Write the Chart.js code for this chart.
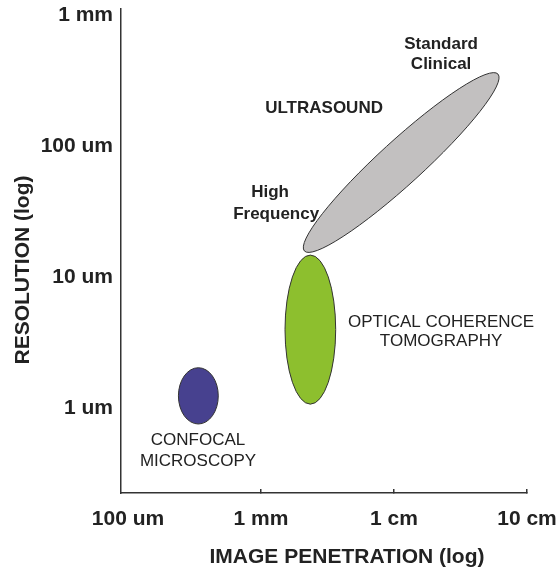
<!DOCTYPE html>
<html>
<head>
<meta charset="utf-8">
<script src="https://cdn.jsdelivr.net/npm/chart.js@4.4.1/dist/chart.umd.min.js"></script>
<style>
  html, body { margin: 0; padding: 0; background: #ffffff; }
  canvas { display: block; }
</style>
</head>
<body>
<canvas id="chart" width="559" height="572"></canvas>
<script>
// Imaging modalities. Each region is an ellipse whose long axis runs from a
// start point to an end point (penetration depth in mm, resolution in um);
// halfWidthDecades is the half-thickness of the region in log decades.
const modalities       = ['ULTRASOUND', 'OPTICAL COHERENCE TOMOGRAPHY', 'CONFOCAL MICROSCOPY'];
const penetrationStart = [2.12, 2.35, 0.338];
const resolutionStart  = [15.8, 1.07, 0.755];
const penetrationEnd   = [60.5, 2.35, 0.338];
const resolutionEnd    = [354, 14.7, 2.03];
const halfWidthDecades = [0.165, 0.192, 0.151];

// Axis ticks
const penetrationTicks      = [0.1, 1, 10, 100];
const penetrationTickLabels = ['100 um', '1 mm', '1 cm', '10 cm'];
const resolutionTicks       = [1, 10, 100, 1000];
const resolutionTickLabels  = ['1 um', '10 um', '100 um', '1 mm'];

// Region fill colours
const regionColors = ['#c2c0c0', '#8dbf2e', '#47418f'];

// Text placed next to the regions, anchored in data coordinates
const regionNotes = [
  { text: 'Standard',          x: 22.6,  y: 601,   bold: true },
  { text: 'Clinical',          x: 22.6,  y: 423,   bold: true },
  { text: 'ULTRASOUND',        x: 2.98,  y: 195,   bold: true },
  { text: 'High',              x: 1.17,  y: 44.5,  bold: true },
  { text: 'Frequency',         x: 1.30,  y: 30.3,  bold: true },
  { text: 'OPTICAL COHERENCE', x: 22.6,  y: 4.53,  bold: false },
  { text: 'TOMOGRAPHY',        x: 22.6,  y: 3.25,  bold: false },
  { text: 'CONFOCAL',          x: 0.336, y: 0.570, bold: false },
  { text: 'MICROSCOPY',        x: 0.336, y: 0.394, bold: false }
];

const FONT = '"Liberation Sans", Arial, Helvetica, sans-serif';
const INK = '#222222';

const regionPlugin = {
  id: 'regions',
  beforeDatasetsDraw(chart) {
    const { ctx, scales } = chart;
    const xs = scales.x, ys = scales.y;
    const decadePx = (Math.abs(xs.getPixelForValue(10) - xs.getPixelForValue(1)) +
                      Math.abs(ys.getPixelForValue(10) - ys.getPixelForValue(1))) / 2;
    chart.data.datasets.forEach((ds, i) => {
      const pts = chart.getDatasetMeta(i).data;
      const p1 = pts[0], p2 = pts[1];
      const cx = (p1.x + p2.x) / 2, cy = (p1.y + p2.y) / 2;
      const a = Math.hypot(p2.x - p1.x, p2.y - p1.y) / 2;
      const b = halfWidthDecades[i] * decadePx;
      const rot = Math.atan2(p2.y - p1.y, p2.x - p1.x);
      ctx.save();
      ctx.beginPath();
      ctx.ellipse(cx, cy, a, b, rot, 0, Math.PI * 2);
      ctx.fillStyle = regionColors[i];
      ctx.fill();
      ctx.lineWidth = 1;
      ctx.strokeStyle = '#333333';
      ctx.stroke();
      ctx.restore();
    });
  },
  afterDraw(chart) {
    const { ctx, scales } = chart;
    const xs = scales.x, ys = scales.y;
    ctx.save();
    ctx.fillStyle = INK;
    ctx.textAlign = 'center';
    ctx.textBaseline = 'middle';
    regionNotes.forEach(n => {
      ctx.font = (n.bold ? 'bold ' : '') + '17px ' + FONT;
      ctx.fillText(n.text, xs.getPixelForValue(n.x), ys.getPixelForValue(n.y));
    });
    // Axis titles
    ctx.font = 'bold 21px ' + FONT;
    ctx.fillText('IMAGE PENETRATION (log)', 347, 557);
    ctx.translate(23, 270);
    ctx.rotate(-Math.PI / 2);
    ctx.fillText('RESOLUTION (log)', 0, 0);
    ctx.restore();
  }
};

function zeroPadding(scale) {
  scale.paddingLeft = 0;
  scale.paddingRight = 0;
  scale.paddingTop = 0;
  scale.paddingBottom = 0;
}

new Chart(document.getElementById('chart'), {
  type: 'scatter',
  data: {
    datasets: modalities.map((m, i) => ({
      label: m,
      data: [
        { x: penetrationStart[i], y: resolutionStart[i] },
        { x: penetrationEnd[i],   y: resolutionEnd[i] }
      ],
      pointRadius: 0,
      pointHoverRadius: 0,
      showLine: false
    }))
  },
  options: {
    responsive: false,
    animation: false,
    devicePixelRatio: 1,
    layout: { padding: { left: 0, right: 32, top: 9, bottom: 0 } },
    plugins: { legend: { display: false }, tooltip: { enabled: false } },
    events: [],
    scales: {
      x: {
        type: 'logarithmic',
        position: 'bottom',
        min: 0.0886,
        max: 100,
        afterBuildTicks: s => { s.ticks = penetrationTicks.map(v => ({ value: v })); },
        afterFit: s => { s.height = 79; zeroPadding(s); },
        ticks: {
          autoSkip: false,
          maxRotation: 0,
          padding: 18,
          color: INK,
          font: { family: FONT, size: 21, weight: 'bold' },
          callback: v => penetrationTickLabels[penetrationTicks.indexOf(v)]
        },
        grid: {
          display: true,
          drawOnChartArea: false,
          drawTicks: true,
          tickLength: -4,
          lineWidth: 1.5,
          color: ctx => (ctx.tick && ctx.tick.value === penetrationTicks[0]) ? 'rgba(0,0,0,0)' : '#333333'
        },
        border: { display: true, color: '#333333', width: 1.5 },
        title: { display: false }
      },
      y: {
        type: 'logarithmic',
        position: 'left',
        min: 0.2245,
        max: 1111,
        afterBuildTicks: s => { s.ticks = resolutionTicks.map(v => ({ value: v })); },
        afterFit: s => { s.width = 121; zeroPadding(s); },
        ticks: {
          autoSkip: false,
          padding: 8,
          color: INK,
          font: { family: FONT, size: 21, weight: 'bold' },
          callback: v => resolutionTickLabels[resolutionTicks.indexOf(v)]
        },
        grid: { display: false, drawTicks: false, tickLength: 0 },
        border: { display: true, color: '#333333', width: 1.5 },
        title: { display: false }
      }
    }
  },
  plugins: [regionPlugin]
});
</script>
</body>
</html>
